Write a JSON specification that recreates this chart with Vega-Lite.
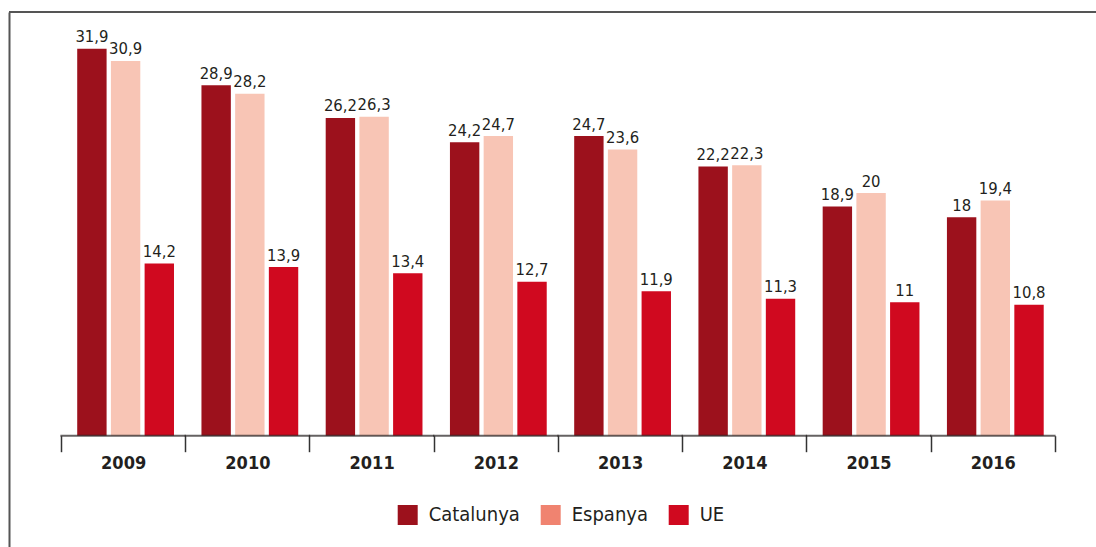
{
  "$schema": "https://vega.github.io/schema/vega-lite/v6.json",
  "autosize": {"type": "none"},
  "padding": {"left": 9, "top": 12, "right": 0, "bottom": 0},
  "width": 1087,
  "height": 535,
  "background": "white",
  "config": {
    "view": {"stroke": null},
    "locale": {"number": {"decimal": ",", "thousands": ".", "grouping": [3], "currency": ["", " €"]}}
  },
  "data": {"values": [
    {"year": "2009", "serie": "Catalunya", "value": 31.9},
    {"year": "2009", "serie": "Espanya", "value": 30.9},
    {"year": "2009", "serie": "UE", "value": 14.2},
    {"year": "2010", "serie": "Catalunya", "value": 28.9},
    {"year": "2010", "serie": "Espanya", "value": 28.2},
    {"year": "2010", "serie": "UE", "value": 13.9},
    {"year": "2011", "serie": "Catalunya", "value": 26.2},
    {"year": "2011", "serie": "Espanya", "value": 26.3},
    {"year": "2011", "serie": "UE", "value": 13.4},
    {"year": "2012", "serie": "Catalunya", "value": 24.2},
    {"year": "2012", "serie": "Espanya", "value": 24.7},
    {"year": "2012", "serie": "UE", "value": 12.7},
    {"year": "2013", "serie": "Catalunya", "value": 24.7},
    {"year": "2013", "serie": "Espanya", "value": 23.6},
    {"year": "2013", "serie": "UE", "value": 11.9},
    {"year": "2014", "serie": "Catalunya", "value": 22.2},
    {"year": "2014", "serie": "Espanya", "value": 22.3},
    {"year": "2014", "serie": "UE", "value": 11.3},
    {"year": "2015", "serie": "Catalunya", "value": 18.9},
    {"year": "2015", "serie": "Espanya", "value": 20},
    {"year": "2015", "serie": "UE", "value": 11},
    {"year": "2016", "serie": "Catalunya", "value": 18},
    {"year": "2016", "serie": "Espanya", "value": 19.4},
    {"year": "2016", "serie": "UE", "value": 10.8}
  ]},
  "layer": [
    {
      "mark": {"type": "bar"},
      "encoding": {
        "x": {
          "field": "year", "type": "nominal", "title": null,
          "scale": {"paddingInner": 0, "paddingOuter": 0.3744, "align": 0.559},
          "axis": {
            "orient": "bottom", "offset": -111.3, "domain": false,
            "tickBand": "extent", "tickSize": 16, "tickWidth": 1.5, "tickColor": "#333333",
            "labelFont": "DejaVu Sans Condensed", "labelFontSize": 18, "labelFontWeight": "bold",
            "labelColor": "#231f20", "labelPadding": 3, "labelAngle": 0
          }
        },
        "xOffset": {
          "field": "serie", "type": "nominal",
          "scale": {"domain": ["Catalunya", "Espanya", "UE"], "paddingInner": 0.128, "paddingOuter": 0.4075, "align": 0.59}
        },
        "y": {
          "field": "value", "type": "quantitative", "title": null,
          "scale": {"domain": [-9.176, 34.93], "nice": false, "zero": false},
          "axis": {"orient": "left", "domain": true, "domainColor": "#555555", "domainWidth": 2, "ticks": false, "labels": false, "grid": false}
        },
        "color": {
          "condition": {"test": "datum.serie === 'Espanya'", "value": "#f8c5b5"},
          "field": "serie", "type": "nominal",
          "scale": {"domain": ["Catalunya", "Espanya", "UE"], "range": ["#9c111c", "#f08370", "#d0091f"]},
          "legend": {
            "title": null, "orient": "none", "direction": "horizontal",
            "legendX": 388.7, "legendY": 493, "padding": 0,
            "symbolType": "square", "symbolSize": 400, "symbolStrokeWidth": 0, "symbolOpacity": 1,
            "labelFont": "DejaVu Sans Condensed", "labelFontSize": 20, "labelColor": "#231f20",
            "labelOffset": 11, "columnPadding": 20
          }
        }
      }
    },
    {
      "mark": {"type": "text", "baseline": "alphabetic", "dy": -6.5, "font": "DejaVu Sans Condensed", "fontSize": 16.5, "color": "#231f20"},
      "encoding": {
        "x": {"field": "year", "type": "nominal"},
        "xOffset": {"field": "serie", "type": "nominal"},
        "y": {"field": "value", "type": "quantitative"},
        "text": {"field": "value", "type": "quantitative", "format": ".3~r"}
      }
    },
    {
      "transform": [{"filter": "datum.serie === 'Catalunya'"}],
      "mark": {"type": "tick", "orient": "horizontal", "thickness": 2, "size": 125.5, "color": "#231f20"},
      "encoding": {
        "x": {"field": "year", "type": "nominal"},
        "y": {"datum": 0, "type": "quantitative"}
      }
    },
    {
      "mark": {"type": "rule", "color": "#555555", "strokeWidth": 2},
      "encoding": {
        "y": {"datum": 34.93, "type": "quantitative"}
      }
    }
  ]
}
